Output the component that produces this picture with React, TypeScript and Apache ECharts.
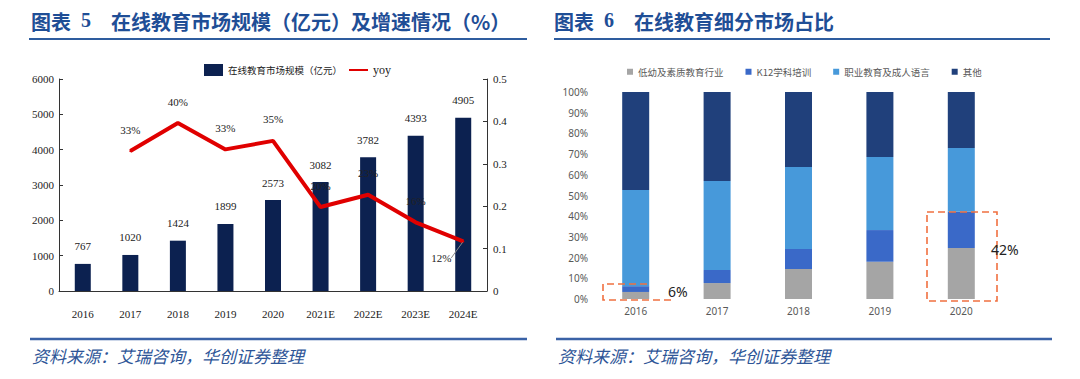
import React, { useEffect, useRef } from "react";
import * as echarts from "echarts";

// ---- Left chart data ----
const years = ["2016", "2017", "2018", "2019", "2020", "2021E", "2022E", "2023E", "2024E"];
const marketSize = [767, 1020, 1424, 1899, 2573, 3082, 3782, 4393, 4905];
const yoy = [null, 0.330, 0.396, 0.334, 0.354, 0.198, 0.227, 0.162, 0.117];
const leftTicks = { min: 0, max: 6000, interval: 1000 };
const rightTicks = { min: 0, max: 0.5, interval: 0.1 };
const calloutIndex = 8; // the yoy label drawn with a leader line

// ---- Right chart data ----
const segYears = ["2016", "2017", "2018", "2019", "2020"];
const earlyQuality = [3.4, 7.7, 14.5, 18.0, 24.6];
const k12 = [2.8, 6.3, 9.7, 15.3, 17.6];
const vocational = [46.5, 43.0, 39.6, 35.3, 30.7];
const others = [47.3, 43.0, 36.2, 31.4, 27.1];

const SERIF = "'Liberation Serif', 'Times New Roman', serif";
const CJK = "'Noto Sans CJK SC', sans-serif";
const SANS = "'Noto Sans', 'Noto Sans CJK SC', sans-serif";
const TITLE_BLUE = "#1F4E96";
const ORANGE = "#F07040";

export default function App() {
  const ref = useRef<HTMLDivElement>(null);
  useEffect(() => {
    if (!ref.current) return;
    const chart = echarts.init(ref.current, undefined, { renderer: "svg" });
    const yoyData = yoy.map((v, i) =>
      i === calloutIndex ? { value: v, labelLine: { show: true } } : v
    );
    const option: any = {
      animation: false,
      backgroundColor: "#ffffff",
      legend: [
        {
          left: 199,
          top: 59,
          itemWidth: 19,
          itemHeight: 12,
          itemGap: 6,
          data: [
            { name: "在线教育市场规模（亿元）", icon: "rect", textStyle: { fontFamily: CJK, fontSize: 9.5, color: "#222" } },
            { name: "yoy", itemStyle: { opacity: 0 }, textStyle: { fontFamily: SERIF, fontSize: 12, color: "#222" } },
          ],
        },
        {
          left: 622,
          top: 62,
          itemWidth: 6,
          itemHeight: 6,
          itemGap: 22,
          icon: "rect",
          textStyle: { fontFamily: CJK, fontSize: 9.5, color: "#595959" },
          data: ["低幼及素质教育行业", "K12学科培训", "职业教育及成人语言", "其他"],
        },
      ],
      grid: [
        { left: 59, top: 79, width: 428, height: 212 },
        { left: 595, top: 92, width: 407, height: 207 },
      ],
      xAxis: [
        {
          type: "category",
          gridIndex: 0,
          data: years,
          axisLine: { lineStyle: { color: "#333", width: 1 } },
          axisTick: { inside: true, length: 5, lineStyle: { color: "#333" } },
          axisLabel: { fontFamily: SERIF, fontSize: 11, color: "#222", margin: 17 },
        },
        {
          type: "category",
          gridIndex: 1,
          data: segYears,
          axisLine: { show: false },
          axisTick: { show: false },
          axisLabel: { fontFamily: SANS, fontSize: 10, color: "#595959", margin: 7 },
        },
      ],
      yAxis: [
        {
          type: "value",
          gridIndex: 0,
          position: "left",
          ...leftTicks,
          splitLine: { show: false },
          axisLine: { show: true, lineStyle: { color: "#333" } },
          axisTick: { show: true, inside: true, length: 4, lineStyle: { color: "#333" } },
          axisLabel: { fontFamily: SERIF, fontSize: 11, color: "#222", margin: 5, formatter: (v: number) => String(v) },
        },
        {
          type: "value",
          gridIndex: 0,
          position: "right",
          ...rightTicks,
          splitLine: { show: false },
          axisLine: { show: true, lineStyle: { color: "#333" } },
          axisTick: { show: true, inside: true, length: 4, lineStyle: { color: "#333" } },
          axisLabel: { fontFamily: SERIF, fontSize: 11, color: "#222", margin: 6 },
        },
        {
          type: "value",
          gridIndex: 1,
          min: 0,
          max: 100,
          interval: 10,
          splitLine: { show: false },
          axisLine: { show: false },
          axisTick: { show: false },
          axisLabel: { fontFamily: SANS, fontSize: 10, color: "#595959", margin: 7, formatter: "{value}%" },
        },
      ],
      series: [
        {
          name: "在线教育市场规模（亿元）",
          type: "bar",
          xAxisIndex: 0,
          yAxisIndex: 0,
          data: marketSize,
          barWidth: 16,
          itemStyle: { color: "#0C2150" },
          label: { show: true, position: "top", distance: 12, fontFamily: SERIF, fontSize: 11, color: "#222" },
        },
        {
          name: "yoy",
          type: "line",
          xAxisIndex: 0,
          yAxisIndex: 1,
          data: yoyData,
          symbol: "circle",
          symbolSize: 2,
          itemStyle: { color: "#E00000" },
          lineStyle: { color: "#E00000", width: 4 },
          z: 5,
          label: {
            show: true,
            position: "top",
            distance: 15,
            fontFamily: SERIF,
            fontSize: 11,
            color: "#222",
            formatter: (p: any) => Math.round(p.value * 100) + "%",
          },
          labelLine: { show: false, lineStyle: { color: "#8a8a8a", width: 1 } },
          labelLayout: (p: any) => (p.dataIndex === calloutIndex ? { dx: -22, dy: 38 } : {}),
        },
        {
          name: "低幼及素质教育行业",
          type: "bar",
          stack: "seg",
          xAxisIndex: 1,
          yAxisIndex: 2,
          barWidth: 27,
          data: earlyQuality,
          itemStyle: { color: "#A5A5A5" },
        },
        {
          name: "K12学科培训",
          type: "bar",
          stack: "seg",
          xAxisIndex: 1,
          yAxisIndex: 2,
          barWidth: 27,
          data: k12,
          itemStyle: { color: "#3A69C8" },
        },
        {
          name: "职业教育及成人语言",
          type: "bar",
          stack: "seg",
          xAxisIndex: 1,
          yAxisIndex: 2,
          barWidth: 27,
          data: vocational,
          itemStyle: { color: "#4799DA" },
        },
        {
          name: "其他",
          type: "bar",
          stack: "seg",
          xAxisIndex: 1,
          yAxisIndex: 2,
          barWidth: 27,
          data: others,
          itemStyle: { color: "#20407B" },
        },
      ],
      graphic: [
        // titles
        { type: "text", left: 31, top: 11, style: { text: "图表", font: `bold 20px ${CJK}`, fill: TITLE_BLUE } },
        { type: "text", left: 81, top: 10, style: { text: "5", font: `bold 20px ${SERIF}`, fill: TITLE_BLUE } },
        { type: "text", left: 111, top: 11, style: { text: "在线教育市场规模（亿元）及增速情况（%）", font: `bold 20px ${CJK}`, fill: TITLE_BLUE } },
        { type: "text", left: 554, top: 11, style: { text: "图表", font: `bold 20px ${CJK}`, fill: TITLE_BLUE } },
        { type: "text", left: 604, top: 10, style: { text: "6", font: `bold 20px ${SERIF}`, fill: TITLE_BLUE } },
        { type: "text", left: 634, top: 11, style: { text: "在线教育细分市场占比", font: `bold 20px ${CJK}`, fill: TITLE_BLUE } },
        // title underlines
        { type: "line", shape: { x1: 29, y1: 39, x2: 527, y2: 39 }, style: { stroke: "#2E5C9E", lineWidth: 2 } },
        { type: "line", shape: { x1: 554, y1: 39, x2: 1050, y2: 39 }, style: { stroke: "#2E5C9E", lineWidth: 2 } },
        // footer lines
        { type: "line", shape: { x1: 30, y1: 339, x2: 527, y2: 339 }, style: { stroke: "#3A62A6", lineWidth: 2.5 } },
        { type: "line", shape: { x1: 556, y1: 339, x2: 1052, y2: 339 }, style: { stroke: "#3A62A6", lineWidth: 2.5 } },
        // footer text
        { type: "text", left: 32, top: 347, style: { text: "资料来源：艾瑞咨询，华创证券整理", font: `italic 17px ${CJK}`, fill: "#2E5597" } },
        { type: "text", left: 558, top: 347, style: { text: "资料来源：艾瑞咨询，华创证券整理", font: `italic 17px ${CJK}`, fill: "#2E5597" } },
        // annotation boxes on the right chart
        {
          type: "polyline",
          shape: { points: [[647, 284], [603, 284], [603, 300], [673, 300]] },
          style: { stroke: ORANGE, lineWidth: 1.6, lineDash: [7, 4], fill: null },
          z: 10,
        },
        { type: "text", left: 668, top: 284, style: { text: "6%", font: `14px ${SANS}`, fill: "#222" }, z: 10 },
        {
          type: "rect",
          shape: { x: 927, y: 212, width: 70, height: 89 },
          style: { stroke: ORANGE, lineWidth: 1.6, lineDash: [7, 4], fill: null },
          z: 10,
        },
        { type: "text", left: 991, top: 242, style: { text: "42%", font: `14px ${SANS}`, fill: "#222" }, z: 10 },
      ],
    };
    chart.setOption(option);
    return () => chart.dispose();
  }, []);
  return (
    <div
      ref={ref}
      style={{ position: "fixed", left: 0, top: 0, width: 1080, height: 379, background: "#fff" }}
    />
  );
}
